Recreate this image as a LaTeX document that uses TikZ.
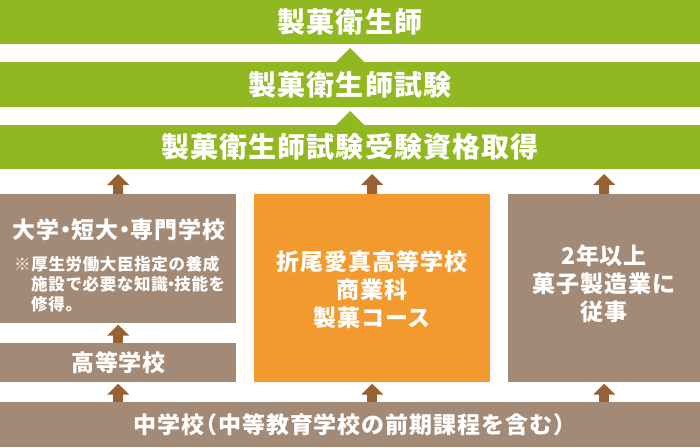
\documentclass[tikz,border=0pt]{standalone}
\usepackage{fontspec}
\newfontfamily\jp{Noto Sans CJK JP}[LetterSpace=4]
\usetikzlibrary{arrows.meta}
\definecolor{bandgreen}{RGB}{146,184,33}
\definecolor{boxbrown}{RGB}{163,138,119}
\definecolor{boxorange}{RGB}{242,154,46}
\definecolor{arrowbrown}{RGB}{152,97,50}
\newcommand{\ndot}{\kern-0.24em・\kern-0.24em}
\tikzset{
  band/.style={fill=bandgreen, draw=none},
  bandtext/.style={text=white, inner sep=0pt, anchor=base, font=\jp\bfseries\fontsize{28}{32}\selectfont},
  boxnode/.style={fill=#1, draw=none, inner sep=0pt, anchor=north west},
  boxtext/.style={text=white, inner sep=0pt, anchor=base, font=\jp\bfseries\fontsize{23}{28}\selectfont},
  notetext/.style={text=white, inner sep=0pt, anchor=base west, font=\jp\bfseries\fontsize{16.5}{20}\selectfont},
  uparrow/.style={draw=arrowbrown, line width=10pt, -{Triangle[width=21.5pt,length=11pt]}, shorten >=#1},
}
\begin{document}
\begin{tikzpicture}[x=1pt,y=-1pt]
\useasboundingbox (0,0) rectangle (700,447);
\fill[white] (0,0) rectangle (700,447);
% green bands
\path[band] (0,0) rectangle (700,44);
\path[band] (0,62) -- (336,62) -- (350,48) -- (364,62) -- (700,62) -- (700,107) -- (0,107) -- cycle;
\path[band] (0,125) -- (336,125) -- (350,111) -- (364,125) -- (700,125) -- (700,169) -- (0,169) -- cycle;
\coordinate (b3l) at (118,169);
\coordinate (b3m) at (372,169);
\coordinate (b3r) at (604,169);
\node[bandtext] (t1) at (350,32.6) {製菓衛生師};
\node[bandtext] (t2) at (350,95.6) {製菓衛生師試験};
\node[bandtext] (t3) at (350,157.6) {製菓衛生師試験受験資格取得};
% boxes
\node[boxnode=boxbrown, minimum width=236pt, minimum height=129pt] (univ) at (0,194) {};
\node[boxnode=boxbrown, minimum width=236pt, minimum height=39pt] (hs) at (0,343) {};
\node[boxnode=boxorange, minimum width=236pt, minimum height=188pt] (orio) at (254,194) {};
\node[boxnode=boxbrown, minimum width=192pt, minimum height=188pt] (work) at (508,194) {};
\node[boxnode=boxbrown, minimum width=700pt, minimum height=45pt] (jhs) at (0,402) {};
% texts
\node[boxtext] (univt) at (119,238.7) {大学\ndot 短大\ndot 専門学校};
\node[notetext] (n1) at (14,270.3) {※厚生労働大臣指定の養成};
\node[notetext] (n2) at (31,290.3) {施設で必要な知識\kern-0.3em・\kern-0.3em 技能を};
\node[notetext] (n3) at (31,310.3) {修得。};
\node[boxtext] (hst) at (118.5,371.7) {高等学校};
\node[boxtext] (o1) at (372,270.7) {折尾愛真高等学校};
\node[boxtext] (o2) at (372,298.7) {商業科};
\node[boxtext] (o3) at (372,326.7) {製菓コース};
\node[boxtext] (w1) at (604,264.7) {2年以上};
\node[boxtext] (w2) at (604,292.7) {菓子製造業に};
\node[boxtext] (w3) at (604,320.7) {従事};
\node[boxtext] (jhst) at (355,433.7) {中学校\kern-0.45em（中等教育学校の前期課程を含む）};
% arrows
\draw[uparrow=5pt] (univ.north) -- (b3l);
\draw[uparrow=5pt] (orio.north) -- (b3m);
\draw[uparrow=5pt] (work.north) -- (b3r);
\draw[uparrow=1.3pt] (hs.north) -- (univ.south);
\draw[uparrow=1.3pt] (jhs.north -| hs.south) -- (hs.south);
\draw[uparrow=1.3pt] (jhs.north -| orio.south) -- (orio.south);
\draw[uparrow=1.3pt] (jhs.north -| work.south) -- (work.south);
\end{tikzpicture}
\end{document}
